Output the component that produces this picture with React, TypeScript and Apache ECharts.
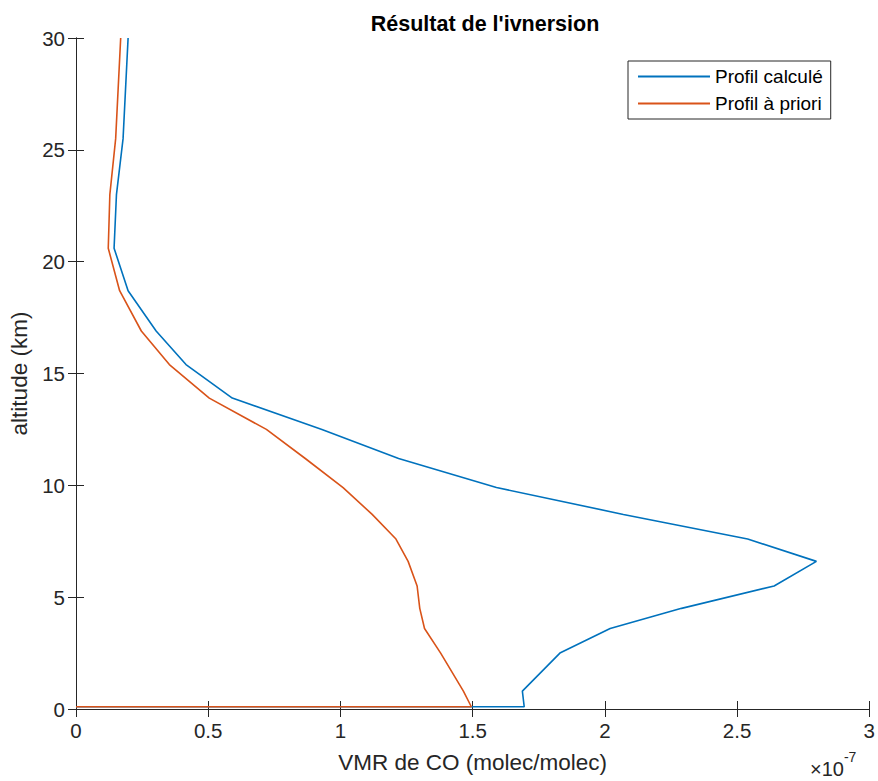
import React, { useEffect, useRef } from "react";
import * as echarts from "echarts";

const altitudes = [30, 25.5, 23, 20.6, 18.7, 16.9, 15.4, 13.9, 12.5, 11.2, 9.9, 8.7, 7.6, 6.6, 5.5, 4.5, 3.6, 2.5, 0.8, 0.1, 0.1];
const profilCalcule = [0.197, 0.178, 0.153, 0.144, 0.197, 0.303, 0.416, 0.591, 0.93, 1.22, 1.59, 2.07, 2.54, 2.8, 2.64, 2.29, 2.02, 1.83, 1.688, 1.695, 0];
const profilPriori = [0.169, 0.15, 0.128, 0.122, 0.165, 0.247, 0.353, 0.504, 0.72, 0.867, 1.01, 1.12, 1.21, 1.256, 1.29, 1.3, 1.318, 1.379, 1.465, 1.495, 0];
const xTicks = [0, 0.5, 1, 1.5, 2, 2.5, 3];
const yTicks = [0, 5, 10, 15, 20, 25, 30];
const seriesNames = ["Profil calculé", "Profil à priori"];

const FONT = "Liberation Sans, Arial, Helvetica, sans-serif";
const AX = "#262626";

export default function App() {
  const ref = useRef<HTMLDivElement>(null);
  useEffect(() => {
    if (!ref.current) return;
    const chart = echarts.init(ref.current, undefined, { renderer: "svg" });
    const axisCommon = {
      axisLine: { show: true, lineStyle: { color: AX, width: 1 } },
      axisTick: { show: true, inside: true, length: 8, lineStyle: { color: AX } },
      splitLine: { show: false },
    };
    const xMin = xTicks[0], xMax = xTicks[xTicks.length - 1], xInt = xTicks[1] - xTicks[0];
    const yMin = yTicks[0], yMax = yTicks[yTicks.length - 1], yInt = yTicks[1] - yTicks[0];
    chart.setOption({
      animation: false,
      backgroundColor: "#ffffff",
      textStyle: { fontFamily: FONT },
      title: {
        text: "Résultat de l'ivnersion",
        left: 480,
        textAlign: "center",
        top: 8,
        textStyle: { fontSize: 21.5, fontWeight: "bold", color: "#000", fontFamily: FONT },
      },
      grid: { left: 76, right: 4, top: 38, bottom: 72, containLabel: false },
      legend: {
        orient: "vertical",
        left: 628,
        top: 61,
        data: seriesNames,
        icon: "rect",
        itemWidth: 72,
        itemHeight: 2,
        itemGap: 8,
        padding: [6, 8, 6, 10],
        borderColor: AX,
        borderWidth: 1,
        backgroundColor: "#fff",
        textStyle: { fontSize: 19, color: "#000", fontFamily: FONT, padding: [0, 0, 0, 0] },
      },
      xAxis: [
        {
          type: "value", min: xMin, max: xMax, interval: xInt, position: "bottom",
          name: "VMR de CO (molec/molec)", nameLocation: "middle", nameGap: 42,
          nameTextStyle: { fontSize: 22.5, color: AX, fontFamily: FONT },
          axisLabel: { fontSize: 20.5, color: AX, margin: 11, fontFamily: FONT },
          ...axisCommon,
        },
        {
          type: "value", min: xMin, max: xMax, interval: xInt, position: "top",
          axisLabel: { show: false }, ...axisCommon,
        },
      ],
      yAxis: [
        {
          type: "value", min: yMin, max: yMax, interval: yInt, position: "left",
          name: "altitude (km)", nameLocation: "middle", nameGap: 43,
          nameTextStyle: { fontSize: 22.5, color: AX, fontFamily: FONT },
          axisLabel: { fontSize: 20.5, color: AX, margin: 11, fontFamily: FONT },
          ...axisCommon,
        },
        {
          type: "value", min: yMin, max: yMax, interval: yInt, position: "right",
          axisLabel: { show: false }, ...axisCommon,
        },
      ],
      graphic: [
        {
          type: "text",
          left: 810,
          top: 750,
          style: {
            text: "{a|×10}{b|-7}",
            rich: {
              a: { fontSize: 20, fill: AX, fontFamily: FONT, padding: [9, 0, 0, 0] },
              b: { fontSize: 14, fill: AX, fontFamily: FONT, verticalAlign: "top" },
            },
          },
        },
      ],
      series: [
        {
          name: seriesNames[0], type: "line", symbol: "none", clip: true,
          data: altitudes.map((a, i) => [profilCalcule[i], a]),
          lineStyle: { color: "#0072BD", width: 1.6 }, itemStyle: { color: "#0072BD" },
        },
        {
          name: seriesNames[1], type: "line", symbol: "none", clip: true,
          data: altitudes.map((a, i) => [profilPriori[i], a]),
          lineStyle: { color: "#D95319", width: 1.6 }, itemStyle: { color: "#D95319" },
        },
      ],
    });
    return () => chart.dispose();
  }, []);
  return <div ref={ref} style={{ position: "fixed", left: 0, top: 0, width: 878, height: 781 }} />;
}
